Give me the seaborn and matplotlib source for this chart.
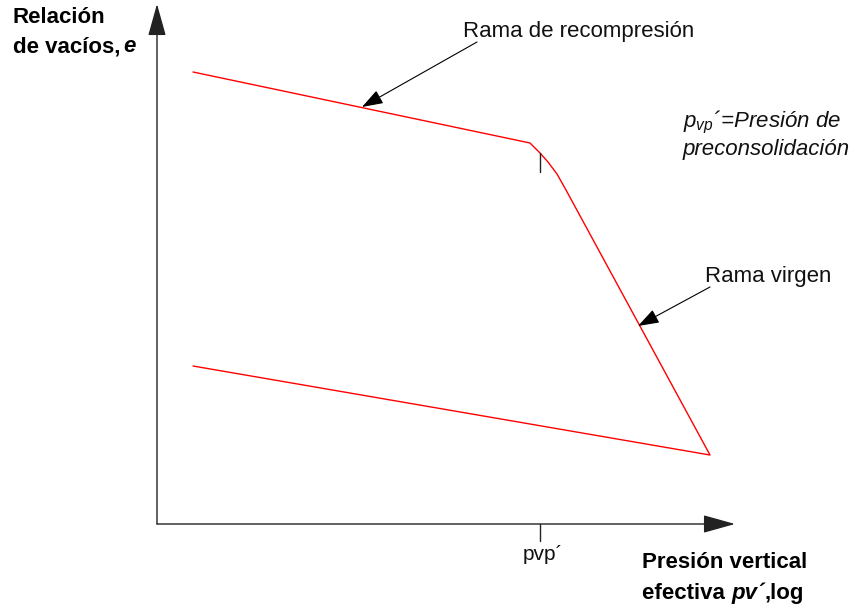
import pandas as pd
import matplotlib.pyplot as plt
import seaborn as sns

# Curva de compresibilidad (unidades del dibujo: log p' vs e)
log_p = [0.36, 3.73, 3.83, 3.91, 4.00, 4.09, 5.53, 0.36]
e_vac = [4.52, 3.81, 3.71, 3.62, 3.50, 3.34, 0.69, 1.58]
pvp = 3.83
x_max, y_max = 5.78, 5.20
tick_label = "pvp´"

df = pd.DataFrame({"log_p": log_p, "e": e_vac})

sns.set_theme(style="white")
plt.rcParams["font.family"] = ["Liberation Sans", "DejaVu Sans"]
plt.rcParams["mathtext.fontset"] = "custom"
plt.rcParams["mathtext.it"] = "Liberation Sans:italic"
plt.rcParams["mathtext.rm"] = "Liberation Sans"

fig = plt.figure(figsize=(8.62, 6.10), dpi=100)
ax = fig.add_axes([0, 0, 1, 1])
ax.set_xlim(-1.57, 7.05)
ax.set_ylim(-0.86, 5.24)
ax.axis("off")

# curva en rojo (sin agregar puntos con la misma x)
sns.lineplot(data=df, x="log_p", y="e", sort=False, estimator=None,
             color="#ff0000", linewidth=1.0, ax=ax)

# ejes con flecha
axis_arrow = dict(arrowstyle="-|>,head_length=1.0,head_width=0.28",
                  mutation_scale=20, color="#222222", lw=1.0,
                  shrinkA=0, shrinkB=0)
ax.annotate("", xy=(0, y_max), xytext=(0, 0), arrowprops=axis_arrow)
ax.annotate("", xy=(x_max, 0), xytext=(0, 0), arrowprops=axis_arrow)

# marcas de pvp
ax.plot([pvp, pvp], [0, -0.17], color="#222222", lw=1.0)
ax.plot([pvp, pvp], [3.71, 3.52], color="#222222", lw=1.0)
ax.text(pvp + 0.03, -0.36, tick_label, fontsize=15, ha="center",
        va="baseline", color="#111111")

# flechas de las ramas
lbl_arrow = dict(arrowstyle="-|>,head_length=1.3,head_width=0.45",
                 mutation_scale=10, color="black", lw=0.8,
                 shrinkA=0, shrinkB=0)
ax.annotate("", xy=(2.05, 4.17), xytext=(3.20, 4.82), arrowprops=lbl_arrow)
ax.annotate("", xy=(4.81, 1.98), xytext=(5.53, 2.37), arrowprops=lbl_arrow)
ax.text(3.06, 4.87, "Rama de recompresión", fontsize=16, va="baseline",
        color="#111111")
ax.text(5.48, 2.42, "Rama virgen", fontsize=16, va="baseline",
        color="#111111")

# nota de preconsolidacion
ax.text(5.26, 3.97, "$p_{vp}$´=Presión de", fontsize=16, style="italic",
        va="baseline", color="#111111")
ax.text(5.26, 3.69, "preconsolidación", fontsize=16, style="italic",
        va="baseline", color="#111111")

# titulo del eje y
ax.text(-1.44, 5.01, "Relación", fontsize=16, fontweight="bold",
        va="baseline", color="black")
t1 = ax.text(-1.44, 4.72, "de vacíos,", fontsize=16, fontweight="bold",
             va="baseline", color="black")
ax.annotate("e", xy=(1, 0), xycoords=t1, xytext=(2, 0),
            textcoords="offset points", fontsize=16, fontweight="bold",
            style="italic", va="bottom", color="black")

# titulo del eje x
ax.text(4.85, -0.44, "Presión vertical", fontsize=16, fontweight="bold",
        va="baseline", color="black")
t2 = ax.text(4.85, -0.75, "efectiva ", fontsize=16, fontweight="bold",
             va="baseline", color="black")
t3 = ax.annotate("pv´", xy=(1, 0), xycoords=t2, fontsize=16,
                 fontweight="bold", style="italic", va="bottom",
                 color="black")
ax.annotate(",log", xy=(1, 0), xycoords=t3, fontsize=16,
            fontweight="bold", va="bottom", color="black")

plt.savefig("out.png", dpi=100)
